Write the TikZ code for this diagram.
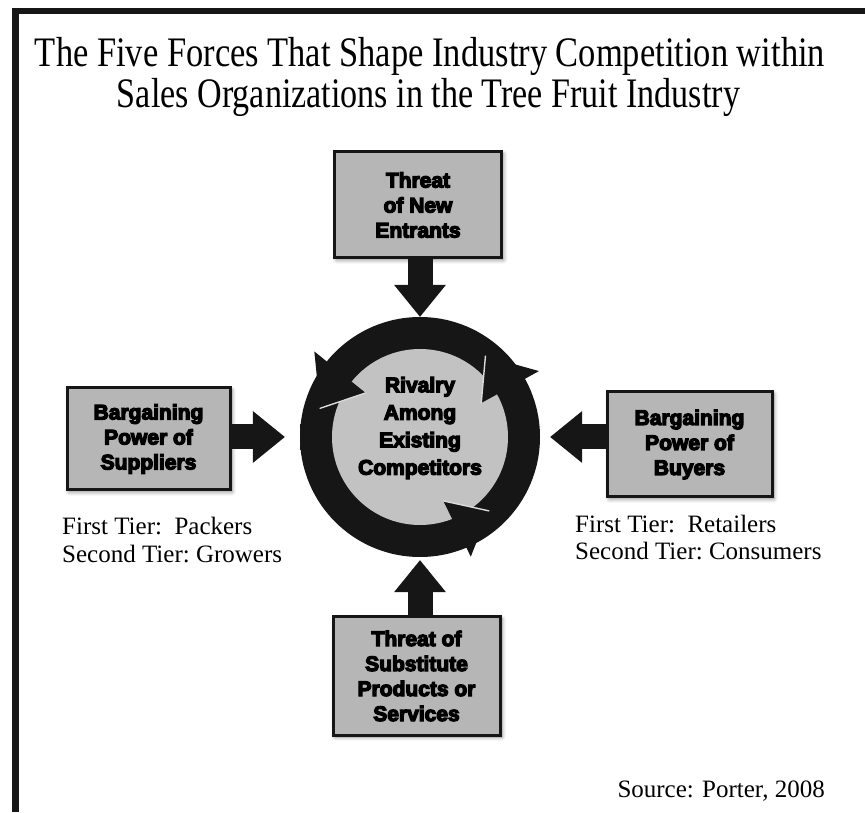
\documentclass[tikz,border=0pt]{standalone}
\usepackage{fontspec}
\usepackage{graphicx}
\setmainfont{Liberation Serif}
\newfontfamily\heavyfont{Liberation Sans}[UprightFont={* Bold}, UprightFeatures={FakeBold=6}]
\usetikzlibrary{arrows.meta,shadows.blur,calc}
\definecolor{boxgray}{RGB}{182,182,182}
\definecolor{diskgray}{RGB}{194,194,194}
\definecolor{ink}{RGB}{22,22,22}
% dark ring fading into a soft halo at its rim
\pgfdeclareradialshading{ringglow}{\pgfpoint{0bp}{0bp}}{color(0bp)=(ink); color(45.5bp)=(ink); color(46.8bp)=(black!45); color(50bp)=(white)}
\begin{document}
\begin{tikzpicture}[x=1pt,y=1pt,
  force/.style={draw=ink, line width=3pt, fill=boxgray, align=center, inner sep=0pt,
    font=\heavyfont\fontsize{21}{25}\selectfont,
    blur shadow={shadow blur steps=6, shadow xshift=2pt, shadow yshift=-2pt,
      shadow blur radius=4pt, shadow opacity=45}},
  push/.style={draw=ink, line width=25pt, -{Triangle[width=52pt,length=32pt,line width=0pt]}},
  ringhead/.style={fill=ink},
  seam/.style={draw=diskgray!60!white, line width=1.4pt, line cap=round},
  tier/.style={font=\fontsize{25}{30}\selectfont, inner sep=0pt, anchor=base west},
  ]
\useasboundingbox (0,0) rectangle (865,812);

% frame along the top and left edges
\draw[line width=6.5pt, ink] (15.5,0) -- (15.5,801) -- (865,801);

% title
\node[anchor=base, inner sep=0pt] (title1) at (430,745)
  {\resizebox{790pt}{\height}{\fontsize{42}{48}\selectfont The Five Forces That Shape Industry Competition within}};
\node[anchor=base, inner sep=0pt] (title2) at (428.5,704)
  {\resizebox{623pt}{\height}{\fontsize{42}{48}\selectfont Sales Organizations in the Tree Fruit Industry}};

% central rivalry ring
\coordinate (c) at (420,375);
\shade[shading=ringglow] (c) circle (120);
\draw[ink, line width=22pt] (c) circle (99);
\fill[diskgray] (c) circle (88);
% three circular arrowheads, each with a light seam where the next arc starts
\fill[ringhead] ($(c)+(141:70)$) -- ($(c)+(141:136)$) -- ($(c)+(164:104)$) -- cycle;
\draw[seam] ($(c)+(164:104)$) -- ($(c)+(141:70)$);
\fill[ringhead] ($(c)+(29:70)$) -- ($(c)+(29:136)$) -- ($(c)+(51:104)$) -- cycle;
\draw[seam] ($(c)+(51:104)$) -- ($(c)+(29:70)$);
\fill[ringhead] ($(c)+(-70:68)$) -- ($(c)+(-67:130)$) -- ($(c)+(-47:101)$) -- cycle;
\draw[seam] ($(c)+(-47:101)$) -- ($(c)+(-70:68)$);
\node[circle, minimum size=220pt, inner sep=0pt] (rival) at (c) {};
\node[align=center, inner sep=0pt, font=\heavyfont\fontsize{21}{27.5}\selectfont] (rivaltext) at (420,384)
  {Rivalry\\Among\\Existing\\Competitors};

% the four outer forces
\node[force, minimum width=167pt, minimum height=106pt] (entrants) at (418,607) {Threat\\of New\\Entrants};
\node[force, minimum width=163pt, minimum height=102pt] (suppliers) at (148.5,373) {Bargaining\\Power of\\Suppliers};
\node[force, minimum width=165pt, minimum height=105pt] (buyers) at (689.5,367.5) {Bargaining\\Power of\\Buyers};
\node[force, minimum width=167pt, minimum height=118pt] (substitutes) at (416.5,136) {Threat of\\Substitute\\Products or\\Services};

% pressure arrows toward the ring
\draw[push, shorten >=10pt] (rival.north |- entrants.south) -- (rival.north);
\draw[push, shorten >=13pt] (rival.south |- substitutes.north) -- (rival.south);
\draw[push, shorten >=25pt] (suppliers.east |- rival.west) -- (rival.west);
\draw[push, shorten >=20pt] (buyers.west |- rival.east) -- (rival.east);

% tiers
\node[tier] (supT1) at (62,277) {First Tier:\ \ Packers};
\node[tier] (supT2) at (62,249) {Second Tier:\ Growers};
\node[tier] (buyT1) at (575,279) {First Tier:\ \ Retailers};
\node[tier] (buyT2) at (575,252) {Second Tier:\ Consumers};

% source
\node[font=\fontsize{25}{30}\selectfont, anchor=base east, inner sep=0pt] (source) at (825,15) {Source: Porter, 2008};
\end{tikzpicture}
\end{document}
